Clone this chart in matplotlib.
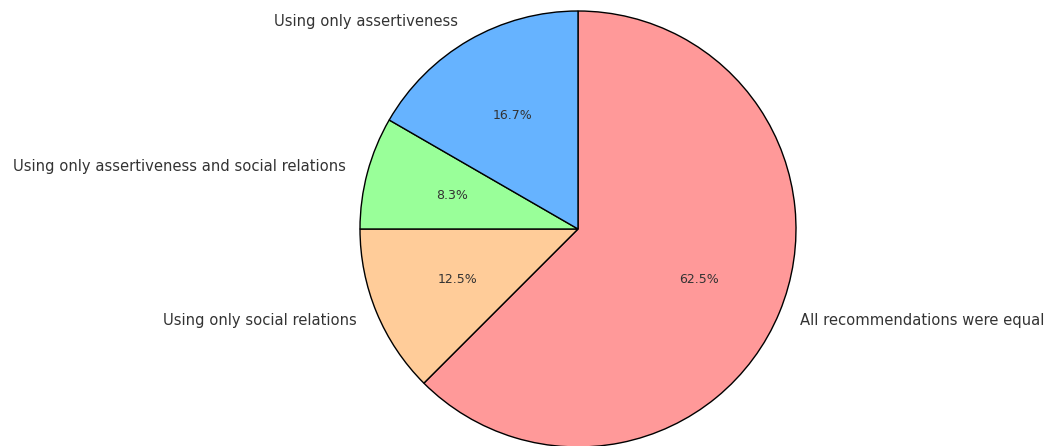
import matplotlib
matplotlib.use("Agg")
import matplotlib.pyplot as plt

labels = ['All recommendations were equal', 'Using only social relations',
          'Using only assertiveness and social relations', 'Using only assertiveness']
counts = [15, 3, 2, 4]
colors = ['#ff9999', '#ffcc99', '#99ff99', '#66b3ff']

fig = plt.figure(figsize=(10.59, 4.46), dpi=100)
ax = fig.add_axes([360 / 1059, -1 / 446, 436 / 1059, 436 / 446])

wedges, texts, autotexts = ax.pie(counts, labels=labels, colors=colors, autopct='%1.1f%%',
                                  startangle=90, counterclock=False,
                                  wedgeprops={'edgecolor': 'black', 'linewidth': 1})
for t in texts:
    t.set_fontsize(10.6)
    t.set_color('#333333')
for t in autotexts:
    t.set_fontsize(9)
    t.set_color('#333333')

ax.set_xlim(-1, 1)
ax.set_ylim(-1, 1)
ax.set_aspect('equal')

fig.savefig('out.png', dpi=100)
